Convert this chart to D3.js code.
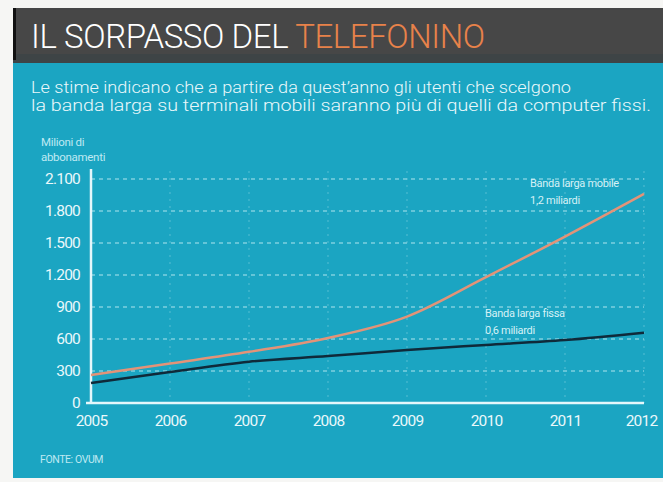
<!DOCTYPE html>
<html>
<head>
<meta charset="utf-8">
<script src="https://cdn.jsdelivr.net/npm/d3@7"></script>
<style>
  body { margin: 0; background: #f6f6f4; overflow: hidden; }
  svg { display: block; }
</style>
</head>
<body>
<div id="chart"></div>
<script>
// Data (millions of subscriptions)
const years = [2005, 2006, 2007, 2008, 2009, 2010, 2011, 2012];
const mobile = [262, 370, 480, 610, 810, 1180, 1560, 1960];
const fixed = [187, 290, 387, 440, 497, 544, 590, 659];
const yTicks = [0, 300, 600, 900, 1200, 1500, 1800, 2100];

const colors = {
  cyan: "#1ba5c2",
  bar: "#474747",
  orange: "#e8824a",
  mobile: "#e39378",
  fixed: "#0f2a3a",
  axis: "#e4f7fb",
  grid: "#7fd0e0",
  text: "#eaf8fb",
};

const width = 663,
  height = 482;

const svg = d3
  .select("#chart")
  .append("svg")
  .attr("width", width)
  .attr("height", height);

// Panels
svg.append("rect").attr("x", 13).attr("y", 8).attr("width", 650).attr("height", 55).attr("fill", colors.bar);
svg.append("rect").attr("x", 13).attr("y", 54).attr("width", 650).attr("height", 9).attr("fill", "#3e4446");
svg.append("rect").attr("x", 13).attr("y", 8).attr("width", 3).attr("height", 52).attr("fill", "#111");
svg.append("rect").attr("x", 13).attr("y", 63).attr("width", 650).attr("height", 415).attr("fill", colors.cyan);

// Title
const title = svg
  .append("text")
  .attr("x", 31)
  .attr("y", 48)
  .attr("font-family", "Roboto, sans-serif")
  .attr("font-weight", 300)
  .attr("font-size", 33)
  .attr("letter-spacing", -0.4);
title.append("tspan").attr("fill", "#fff").text("IL SORPASSO DEL ");
title.append("tspan").attr("fill", colors.orange).text("TELEFONINO");

// Subtitle
const subtitle = [
  { text: "Le stime indicano che a partire da quest\u2019anno gli utenti che scelgono", w: 540 },
  { text: "la banda larga su terminali mobili saranno più di quelli da computer fissi.", w: 620 },
];
svg
  .append("g")
  .attr("font-family", "Roboto, sans-serif")
  .attr("font-weight", 300)
  .attr("font-size", 16.5)
  .attr("fill", colors.text)
  .selectAll("text")
  .data(subtitle)
  .join("text")
  .attr("x", 31)
  .attr("y", (d, i) => 93 + i * 18)
  .attr("textLength", (d) => d.w)
  .attr("lengthAdjust", "spacingAndGlyphs")
  .text((d) => d.text);

// Scales
const x = d3.scaleLinear().domain([2005, 2012]).range([91, 644]);
const y = d3.scaleLinear().domain([0, 2100]).range([403, 179]);

// Grid
svg
  .append("g")
  .selectAll("line")
  .data(yTicks.slice(1))
  .join("line")
  .attr("x1", x(2005))
  .attr("x2", x(2012))
  .attr("y1", (d) => y(d))
  .attr("y2", (d) => y(d))
  .attr("stroke", colors.grid)
  .attr("stroke-width", 1.3)
  .attr("stroke-dasharray", "4,4");

svg
  .append("g")
  .selectAll("line")
  .data(years.slice(1))
  .join("line")
  .attr("x1", (d) => x(d))
  .attr("x2", (d) => x(d))
  .attr("y1", y(2100) - 8)
  .attr("y2", y(0))
  .attr("stroke", colors.grid)
  .attr("stroke-width", 1)
  .attr("stroke-opacity", 0.6)
  .attr("stroke-dasharray", "2,5");

// Axes
const fmt = (d) => d3.format(",")(d).replace(/,/g, ".");

const yAxis = svg
  .append("g")
  .attr("transform", `translate(${x(2005)},0)`)
  .call(d3.axisLeft(y).tickValues(yTicks).tickFormat(fmt).tickSize(0).tickPadding(11));
yAxis.select(".domain").remove();
yAxis
  .selectAll("text")
  .attr("font-family", "Roboto, sans-serif")
  .attr("font-size", 15.5)
  .attr("letter-spacing", -0.8)
  .attr("fill", colors.text);

const xAxis = svg
  .append("g")
  .attr("transform", `translate(0,${y(0)})`)
  .call(d3.axisBottom(x).tickValues(years).tickFormat(d3.format("d")).tickSize(0).tickPadding(12));
xAxis.select(".domain").remove();
xAxis
  .selectAll("text")
  .attr("font-family", "Roboto, sans-serif")
  .attr("font-size", 15.5)
  .attr("letter-spacing", -0.8)
  .attr("fill", colors.text)
  .attr("dx", (d) => (d === 2012 ? -3 : 0));

svg
  .append("line")
  .attr("x1", x(2005))
  .attr("x2", x(2005))
  .attr("y1", y(2100) - 10)
  .attr("y2", y(0) + 1)
  .attr("stroke", colors.axis)
  .attr("stroke-width", 2.5);
svg
  .append("line")
  .attr("x1", x(2005) - 5)
  .attr("x2", x(2012))
  .attr("y1", y(0))
  .attr("y2", y(0))
  .attr("stroke", colors.axis)
  .attr("stroke-width", 2.5);

// Axis title
svg
  .append("g")
  .attr("font-family", "Roboto, sans-serif")
  .attr("font-size", 11.5)
  .attr("letter-spacing", -0.3)
  .attr("fill", "#bfe9f2")
  .selectAll("text")
  .data(["Milioni di", "abbonamenti"])
  .join("text")
  .attr("x", 41)
  .attr("y", (d, i) => 146 + i * 15)
  .text((d) => d);

// Lines
const line = (vals) =>
  d3
    .line()
    .x((d, i) => x(years[i]))
    .y((d) => y(d))
    .curve(d3.curveMonotoneX)(vals);

svg
  .append("path")
  .attr("d", line(fixed))
  .attr("fill", "none")
  .attr("stroke", colors.fixed)
  .attr("stroke-width", 2.5);

svg
  .append("path")
  .attr("d", line(mobile))
  .attr("fill", "none")
  .attr("stroke", colors.mobile)
  .attr("stroke-width", 2.5);

// Line labels
const labels = [
  { lines: ["Banda larga mobile", "1,2 miliardi"], x: 530, y: 187 },
  { lines: ["Banda larga fissa", "0,6 miliardi"], x: 485, y: 317 },
];
labels.forEach((l) => {
  svg
    .append("g")
    .attr("font-family", "Roboto, sans-serif")
    .attr("font-size", 11)
    .attr("letter-spacing", -0.3)
    .attr("fill", "#d6f1f6")
    .selectAll("text")
    .data(l.lines)
    .join("text")
    .attr("x", l.x)
    .attr("y", (d, i) => l.y + i * 17)
    .text((d) => d);
});

// Source
svg
  .append("text")
  .attr("x", 40)
  .attr("y", 463)
  .attr("font-family", "Roboto, sans-serif")
  .attr("font-size", 10.5)
  .attr("letter-spacing", -0.4)
  .attr("fill", "#bfe9f2")
  .text("FONTE: OVUM");
</script>
</body>
</html>
